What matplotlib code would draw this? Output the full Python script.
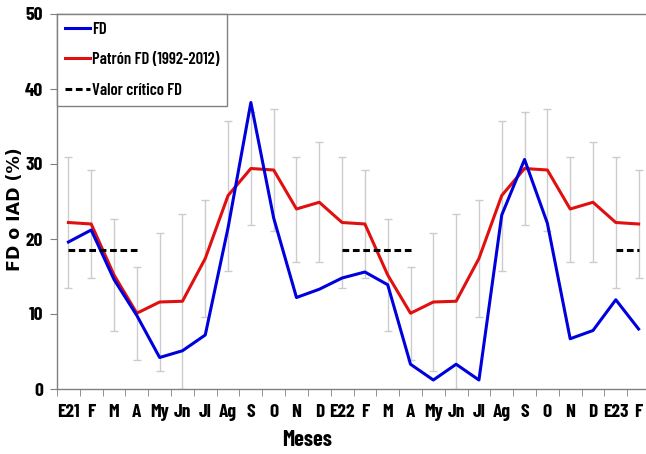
import matplotlib
matplotlib.use("Agg")
import matplotlib.pyplot as plt
import numpy as np

NarrowFont = ['Barlow Condensed', 'Liberation Sans Narrow', 'DejaVu Sans']
TickSize = 14
LineWidth = 2.2

# months Jan 2021 .. Feb 2023
meses = ['E21', 'F', 'M', 'A', 'My', 'Jn', 'Jl', 'Ag', 'S', 'O', 'N', 'D',
         'E22', 'F', 'M', 'A', 'My', 'Jn', 'Jl', 'Ag', 'S', 'O', 'N', 'D',
         'E23', 'F']

fd = [19.6, 21.2, 14.6, 9.8, 4.2, 5.1, 7.2, 21.5, 38.2, 22.8, 12.2, 13.3,
      14.8, 15.6, 13.9, 3.3, 1.2, 3.3, 1.2, 23.2, 30.6, 22.1, 6.7, 7.8,
      11.9, 8.0]

# monthly pattern 1992-2012 (Jan..Dec) and its std deviation
patron_mes = [22.2, 22.0, 15.2, 10.1, 11.6, 11.7, 17.4, 25.8, 29.4, 29.2, 24.0, 24.9]
desv_mes = [8.7, 7.2, 7.5, 6.2, 9.2, 11.7, 7.8, 10.0, 7.5, 8.1, 7.0, 8.0]

valor_critico = 18.5
meses_criticos = [0, 1, 2, 3]  # E..A

n = len(meses)
x = np.arange(n)
patron = np.array([patron_mes[i % 12] for i in range(n)])
desv = np.array([desv_mes[i % 12] for i in range(n)])
critico = np.array([valor_critico if (i % 12) in meses_criticos else np.nan for i in range(n)])

fig = plt.figure(figsize=(6.46, 4.54), dpi=100)
ax = fig.add_axes([57 / 646, 65 / 454, 593 / 646, 375 / 454])

ax.errorbar(x, patron, yerr=desv, fmt='none', ecolor='#cccccc', elinewidth=1,
            capsize=3, capthick=1, zorder=1)
ax.plot(x, fd, color='#0000dd', linewidth=LineWidth, label='FD', zorder=3)
ax.plot(x, patron, color='#e01010', linewidth=LineWidth, label='Patrón FD (1992-2012)', zorder=2)
ax.plot(x, critico, color='black', linewidth=2.2, linestyle=(0, (2.2, 1.2)),
        label='Valor crítico FD', zorder=4)

ax.set_xlim(-0.5, n - 0.5)
ax.set_ylim(0, 50)
ax.set_yticks([0, 10, 20, 30, 40, 50])
ax.set_xticks(x)
ax.set_xticklabels(meses)
ax.set_xticks(np.arange(-0.5, n, 1), minor=True)
ax.tick_params(axis='x', which='major', length=0, pad=11)
ax.tick_params(axis='x', which='minor', length=5, color='#808080', direction='out')
ax.tick_params(axis='y', length=5, color='#808080', direction='out', pad=5)

for lab in ax.get_xticklabels() + ax.get_yticklabels():
    lab.set_family(NarrowFont)
    lab.set_fontweight('bold')
    lab.set_fontsize(TickSize)

for side in ['left', 'bottom', 'top', 'right']:
    ax.spines[side].set_color('#808080')
    ax.spines[side].set_linewidth(1)

ax.set_xlabel('Meses', family=NarrowFont, fontweight='bold', fontsize=16)
ax.xaxis.set_label_coords((307 - 57) / 593, -(430 - 389) / 375)
ax.set_ylabel('FD o IAD (%)', family='DejaVu Sans', fontweight='bold', fontsize=12.5)
ax.yaxis.set_label_coords((24 - 57) / 593, (389 - 209) / 375)

leg = ax.legend(loc='upper left', bbox_to_anchor=(0, 1), borderaxespad=0,
                handlelength=1.5, handletextpad=0.15, labelspacing=0.95,
                borderpad=0.45, fancybox=False, framealpha=1,
                prop={'family': NarrowFont, 'weight': 600, 'size': 12})
leg.get_frame().set_edgecolor('#808080')
leg.get_frame().set_linewidth(1)

fig.savefig('out.png', dpi=100)
